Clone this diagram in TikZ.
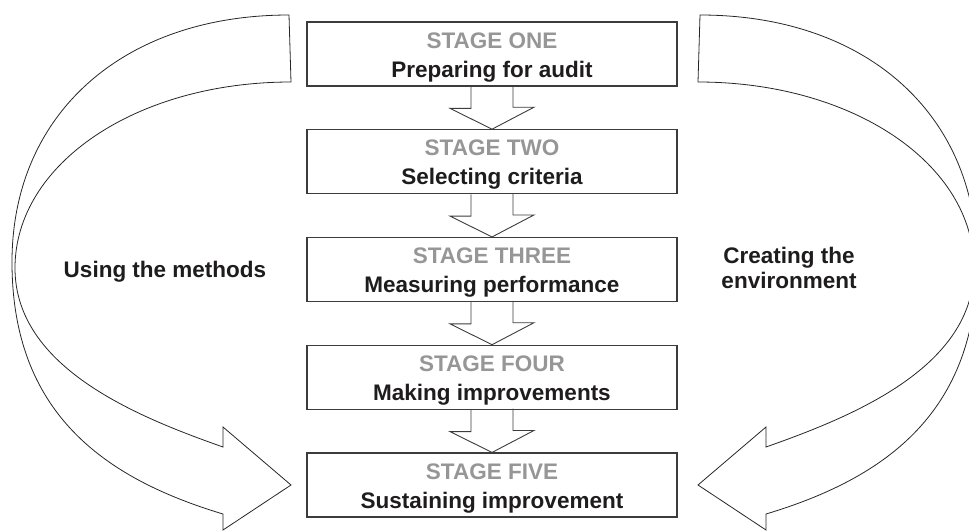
\documentclass[tikz,border=0pt]{standalone}
\usepackage{fontspec}
\setmainfont{Liberation Sans}
\definecolor{stagegray}{RGB}{150,150,150}
\definecolor{boxline}{RGB}{60,60,60}
\definecolor{textblack}{RGB}{30,28,29}
\tikzset{
	stagebox/.style={draw=boxline, line width=1.1pt, minimum width=370pt, minimum height=64pt,
		inner sep=0pt, align=center, text=textblack, font=\fontsize{22.5}{29}\selectfont\bfseries},
	sidelabel/.style={inner sep=0pt, align=center, text=textblack, font=\fontsize{22.5}{25}\selectfont\bfseries},
	downarrow/.style={draw=boxline, line width=0.9pt, line join=miter},
	bigarrow/.pic={
		\draw[line width=0.8pt, draw=black!85, line join=miter]
		(289,15) .. controls (123,15) and (12,114) .. (12,262)
		.. controls (12,412) and (103,478) .. (223,514)
		-- (223,530) -- (291,485) -- (223,427) -- (223,447)
		.. controls (138,417) and (15,368) .. (15,268)
		.. controls (15,164) and (136,82) .. (291,82) -- cycle;
	}
}
\begin{document}
\begin{tikzpicture}[x=1pt,y=-1pt]
	\useasboundingbox (0,0) rectangle (969,531);
	\clip (0,0) rectangle (969,531);
	% stages
	\foreach \stg/\txt [count=\i] in {ONE/Preparing for audit, TWO/Selecting criteria,
		THREE/Measuring performance, FOUR/Making improvements, FIVE/Sustaining improvement}
	\node[stagebox] (stage\i) at (492,{54+107.75*(\i-1)})
		{{\color{stagegray}\rule{0pt}{22pt}STAGE \stg}\\\txt};
	% small arrows between stages
	\foreach \a/\b in {1/2,2/3,3/4,4/5}
	\draw[downarrow] (stage\a.south) ++(-21,0) -- ++(0,21.75) -- ++(-21,0) -- (stage\b.north)
		-- ++(42,-22) -- ++(-21,0) -- ++(0,-21.75);
	% left hand
	\pic at (0,0) {bigarrow};
	\node[sidelabel, anchor=base] (methods) at (165,277) {Using the methods};
	% right hand
	\pic[xscale=-1] at (989,0) {bigarrow};
	\node[sidelabel] (environment) at (789,267.5) {Creating the\\environment};
\end{tikzpicture}
\end{document}
